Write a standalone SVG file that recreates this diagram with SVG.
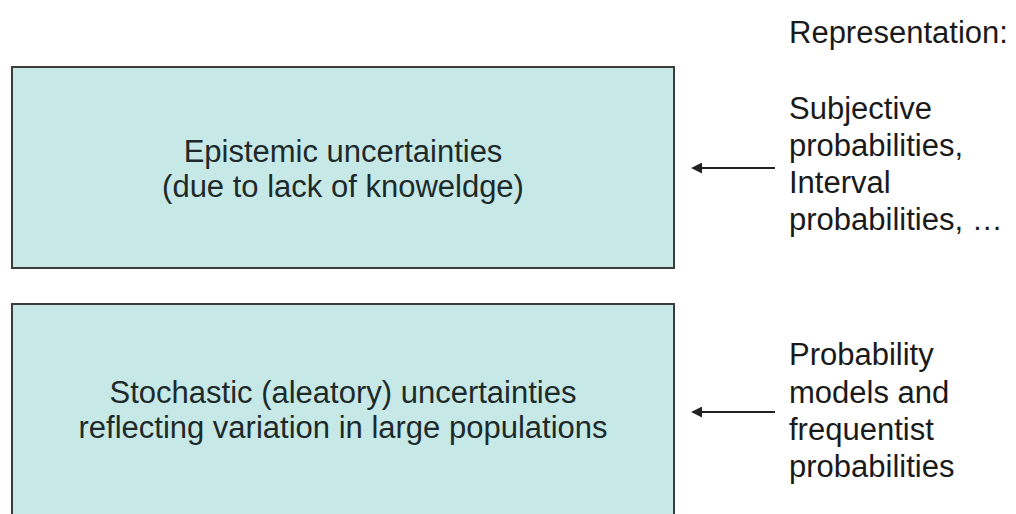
<svg xmlns="http://www.w3.org/2000/svg" width="1016" height="514" viewBox="0 0 1016 514">
<style>
.box{fill:#c6e9e8;stroke:#3c3c3c;stroke-width:2}
.bt{font-family:"Liberation Sans",Arial,sans-serif;font-size:31px;fill:#1e2a2a;text-anchor:middle}
.rt{font-family:"Liberation Sans",Arial,sans-serif;font-size:31px;fill:#1a1a1a}
.conn{stroke:#222;stroke-width:2;fill:none}
</style>
<defs>
<marker id="ah" viewBox="0 0 10 10" refX="1" refY="5" markerWidth="5.5" markerHeight="5.5" orient="auto-start-reverse">
<path d="M0,0 L10,5 L0,10 z" fill="#222"/>
</marker>
</defs>
<rect width="1016" height="514" fill="#ffffff"/>
<g id="epistemic">
<rect class="box" x="12" y="67" width="662" height="201"/>
<text class="bt" x="343" y="162">Epistemic uncertainties</text>
<text class="bt" x="343" y="197">(due to lack of knoweldge)</text>
</g>
<g id="stochastic">
<rect class="box" x="12" y="304" width="662" height="230"/>
<text class="bt" x="343" y="403">Stochastic (aleatory) uncertainties</text>
<text class="bt" x="343" y="438">reflecting variation in large populations</text>
</g>
<g id="representation-title">
<text class="rt" x="789" y="43">Representation:</text>
</g>
<g id="rep-epistemic">
<text class="rt" x="789" y="119">Subjective</text>
<text class="rt" x="789" y="156">probabilities,</text>
<text class="rt" x="789" y="193">Interval</text>
<text class="rt" x="789" y="230">probabilities, …</text>
</g>
<g id="rep-stochastic">
<text class="rt" x="789" y="365">Probability</text>
<text class="rt" x="789" y="403">models and</text>
<text class="rt" x="789" y="440">frequentist</text>
<text class="rt" x="789" y="477">probabilities</text>
</g>
<g id="connectors">
<line class="conn" x1="775" y1="168" x2="701" y2="168" marker-end="url(#ah)"/>
<line class="conn" x1="775" y1="412" x2="701" y2="412" marker-end="url(#ah)"/>
</g>
</svg>
